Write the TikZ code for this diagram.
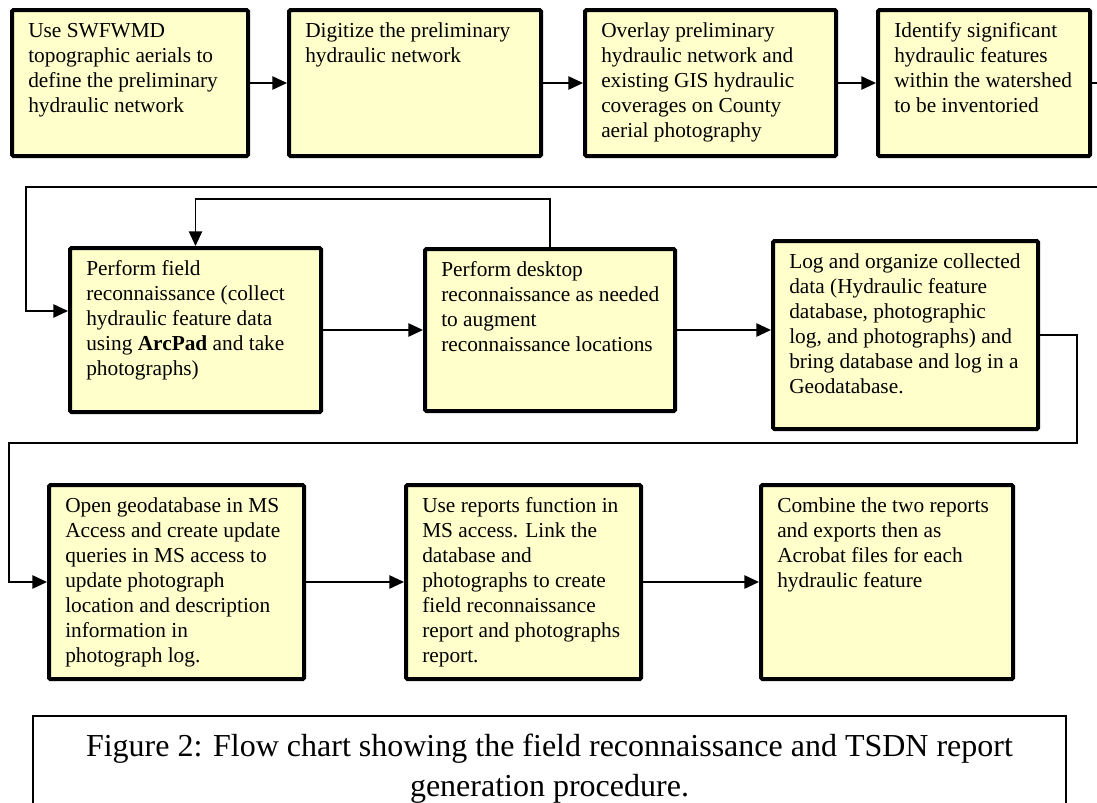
\documentclass[tikz,border=0pt]{standalone}
\usepackage{fontspec}
\setmainfont{Liberation Serif}
\usetikzlibrary{arrows.meta}
\definecolor{boxfill}{RGB}{255,255,204}
\newcommand\boxlines[1]{\begin{tabular}[t]{@{}l@{}}#1\end{tabular}}
\newcommand\caplines[1]{\begin{tabular}[t]{@{}c@{}}#1\end{tabular}}

\begin{document}
\begin{tikzpicture}[x=0.75pt, y=-0.75pt,
  bsize/.style 2 args={minimum width=#1*0.75pt, minimum height=#2*0.75pt},
  box/.style={draw, line width=3pt, fill=boxfill, rounded corners=1pt, inner sep=0pt},
  txt/.style={anchor=base west, inner sep=0pt, font=\fontsize{16}{18.75}\selectfont},
  captxt/.style={anchor=base, inner sep=0pt, font=\fontsize{24}{30}\selectfont},
  arr/.style={-{Triangle[length=11pt,width=10pt]}, line width=1.2pt}]
\useasboundingbox (0,0) rectangle (1097,803);

\node[box, bsize={236}{146}] (b1) at (130,83) {};
\node[box, bsize={252}{146}] (b2) at (415,83) {};
\node[box, bsize={251}{146}] (b3) at (710.5,83) {};
\node[box, bsize={212}{146}] (b4) at (984,83) {};
\node[box, bsize={251}{164}] (b5) at (195.5,330) {};
\node[box, bsize={250}{162}] (b6) at (550,330) {};
\node[box, bsize={265}{188}] (b7) at (905.5,335) {};
\node[box, bsize={255}{194}] (b8) at (176.5,582) {};
\node[box, bsize={235}{194}] (b9) at (523.5,582) {};
\node[box, bsize={252}{194}] (b10) at (887,582) {};

\node[txt] (t1) at ([shift={(18,29)}]b1.north west) {\boxlines{Use SWFWMD\\topographic aerials to\\define the preliminary\\hydraulic network}};
\node[txt] (t2) at ([shift={(18,29)}]b2.north west) {\boxlines{Digitize the preliminary\\hydraulic network}};
\node[txt] (t3) at ([shift={(18,29)}]b3.north west) {\boxlines{Overlay preliminary\\hydraulic network and\\existing GIS hydraulic\\coverages on County\\aerial photography}};
\node[txt] (t4) at ([shift={(18,29)}]b4.north west) {\boxlines{Identify significant\\hydraulic features\\within the watershed\\to be inventoried}};
\node[txt] (t5) at ([shift={(18,29)}]b5.north west) {\boxlines{Perform field\\reconnaissance (collect\\hydraulic feature data\\using \textbf{ArcPad} and take\\photographs)}};
\node[txt] (t6) at ([shift={(18,29)}]b6.north west) {\boxlines{Perform desktop\\reconnaissance as needed\\to augment\\reconnaissance locations}};
\node[txt] (t7) at ([shift={(18,29)}]b7.north west) {\boxlines{Log and organize collected\\data (Hydraulic feature\\database, photographic\\log, and photographs) and\\bring database and log in a\\Geodatabase.}};
\node[txt] (t8) at ([shift={(18,29)}]b8.north west) {\boxlines{Open geodatabase in MS\\Access and create update\\queries in MS access to\\update photograph\\location and description\\information in\\photograph log.}};
\node[txt] (t9) at ([shift={(18,29)}]b9.north west) {\boxlines{Use reports function in\\MS access. Link the\\database and\\photographs to create\\field reconnaissance\\report and photographs\\report.}};
\node[txt] (t10) at ([shift={(18,29)}]b10.north west) {\boxlines{Combine the two reports\\and exports then as\\Acrobat files for each\\hydraulic feature}};

\draw[arr] (b1) -- (b2);
\draw[arr] (b2) -- (b3);
\draw[arr] (b3) -- (b4);
\draw[arr] (b4.east) -- (1104,83) |- (26,187) |- (b5.west |- 0,311);
\draw[arr] (b5) -- (b6);
\draw[arr] (b6.north) -- (b6.north |- 0,199) -| (b5.north);
\draw[arr] (b6.east) -- (b7.west |- b6.east);
\draw[arr] (b7.east) -- (b7.east -| 1077,0) |- (9,443) |- (b8.west);
\draw[arr] (b8) -- (b9);
\draw[arr] (b9) -- (b10);

\node[draw, line width=1.2pt, inner sep=0pt, bsize={1033}{114}] (cap) at (549.5,773) {};
\node[captxt] (captext) at (549.5,756) {\caplines{Figure 2: Flow chart showing the field reconnaissance and TSDN report\\generation procedure.}};
\end{tikzpicture}
\end{document}
